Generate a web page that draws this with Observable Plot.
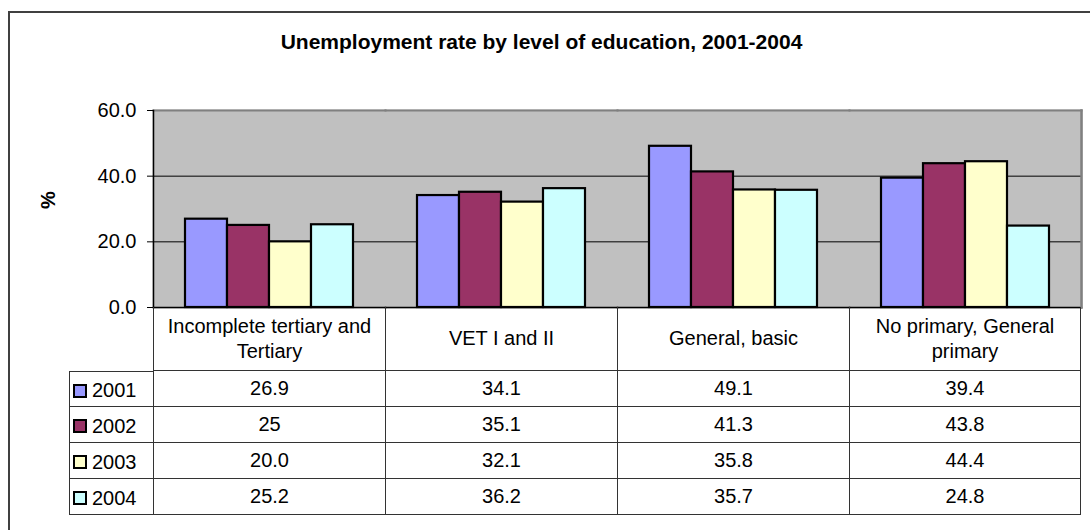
<!DOCTYPE html>
<html>
<head>
<meta charset="utf-8">
<script src="https://cdn.jsdelivr.net/npm/d3@7"></script>
<script src="https://cdn.jsdelivr.net/npm/@observablehq/plot@0.6"></script>
<style>
  html, body { margin: 0; padding: 0; background: #fff; overflow: hidden; }
  #wrap { position: relative; width: 1090px; height: 530px; font-family: Arial, "Liberation Sans", sans-serif; color: #000; overflow: hidden; }
  #frame { position: absolute; left: 8px; top: 11px; width: 1200px; height: 700px; border: 2px solid #404040; box-sizing: border-box; }
  #title { position: absolute; left: 0; top: 30px; width: 1083px; text-align: center; font-weight: bold; font-size: 21px; line-height: 24px; }
  #chart { position: absolute; left: 0; top: 90px; }
  #table { position: absolute; left: 69px; top: 307px; display: grid; grid-template-columns: 84px repeat(4, 232px); grid-template-rows: 64px repeat(4, 36px); font-size: 20px; }
  #table .cell { box-sizing: border-box; display: flex; align-items: center; justify-content: center; text-align: center; white-space: pre-line; line-height: 25px; }
  #table .hdr { border-left: 1px solid #333; border-bottom: 1px solid #333; }
  #table .val { border-left: 1px solid #333; border-bottom: 1px solid #333; }
  #table .last { border-right: 1px solid #333; }
  #table .leg { border-left: 1px solid #333; border-bottom: 1px solid #333; justify-content: flex-start; padding-left: 3px; padding-top: 3px; }
  #table .first { border-top: 1px solid #333; }
  #table .sw { display: inline-block; width: 10px; height: 10px; border: 2px solid #000; margin-right: 5px; }
</style>
</head>
<body>
<div id="wrap">
  <div id="frame"></div>
  <div id="title"></div>
  <div id="chart"></div>
  <div id="table"></div>
</div>
<script>
const titleText = "Unemployment rate by level of education, 2001-2004";
const yLabel = "%";
const categories = ["Incomplete tertiary and\nTertiary", "VET I and II", "General, basic", "No primary, General\nprimary"];
const years = ["2001", "2002", "2003", "2004"];
const v2001 = ["26.9", "34.1", "49.1", "39.4"];
const v2002 = ["25", "35.1", "41.3", "43.8"];
const v2003 = ["20.0", "32.1", "35.8", "44.4"];
const v2004 = ["25.2", "36.2", "35.7", "24.8"];
const yTicks = [0, 20, 40, 60];
const yearColors = ["#9999FF", "#993366", "#FFFFCC", "#CCFFFF"];

const series = [v2001, v2002, v2003, v2004];
const rows = [];
years.forEach((yr, i) => categories.forEach((c, j) => rows.push({year: yr, category: c, value: +series[i][j]})));

document.getElementById("title").textContent = titleText;

const plot = Plot.plot({
  width: 1090,
  height: 220,
  marginTop: 20,
  marginBottom: 3,
  marginLeft: 153,
  marginRight: 9,
  style: {fontFamily: "Arial, 'Liberation Sans', sans-serif", fontSize: "20px", color: "#000", background: "transparent", overflow: "visible"},
  fx: {domain: categories, padding: 0, axis: null},
  x: {domain: years, paddingInner: 0, paddingOuter: 0.73, axis: null},
  y: {domain: [0, 60], axis: null},
  color: {domain: years, range: yearColors},
  marks: [
    Plot.frame({fill: "#c0c0c0", stroke: "#c0c0c0", strokeWidth: 2}),
    Plot.gridY(yTicks.filter(t => t > 0 && t < 60), {stroke: "#000", strokeOpacity: 1, strokeWidth: 1}),
    Plot.barY(rows, {fx: "category", x: "year", y: "value", fill: "year", stroke: "#000", strokeWidth: 2.2}),
    Plot.frame({anchor: "top", stroke: "#808080", strokeWidth: 2}),
    Plot.frame({anchor: "bottom", stroke: "#000", strokeWidth: 1.5}),
    Plot.frame({anchor: "left", stroke: "#000", strokeWidth: 1.5, fx: () => categories[0]}),
    Plot.frame({anchor: "right", stroke: "#808080", strokeWidth: 2.5, fx: () => categories[categories.length - 1]}),
    Plot.axisY(yTicks, {tickFormat: d3.format(".1f"), tickSize: 6, tickPadding: 11, fontSize: 20, label: null, stroke: "#000"}),
    Plot.text([yLabel], {text: d => d, frameAnchor: "left", rotate: -90, dx: -105, fontWeight: "bold", fontSize: 20, fx: () => categories[0]})
  ]
});
document.getElementById("chart").appendChild(plot);

// data table below the chart
const table = document.getElementById("table");
function cell(cls, html) {
  const d = document.createElement("div");
  d.className = "cell " + cls;
  if (html instanceof Node) d.appendChild(html); else d.textContent = html;
  table.appendChild(d);
  return d;
}
cell("", "");
categories.forEach((c, j) => cell("hdr" + (j === categories.length - 1 ? " last" : ""), c));
years.forEach((yr, i) => {
  const lg = document.createElement("span");
  const sw = document.createElement("span");
  sw.className = "sw";
  sw.style.background = yearColors[i];
  lg.appendChild(sw);
  lg.appendChild(document.createTextNode(yr));
  lg.style.display = "flex";
  lg.style.alignItems = "center";
  cell("leg" + (i === 0 ? " first" : ""), lg);
  series[i].forEach((v, j) => cell("val" + (j === categories.length - 1 ? " last" : ""), v));
});
</script>
</body>
</html>
